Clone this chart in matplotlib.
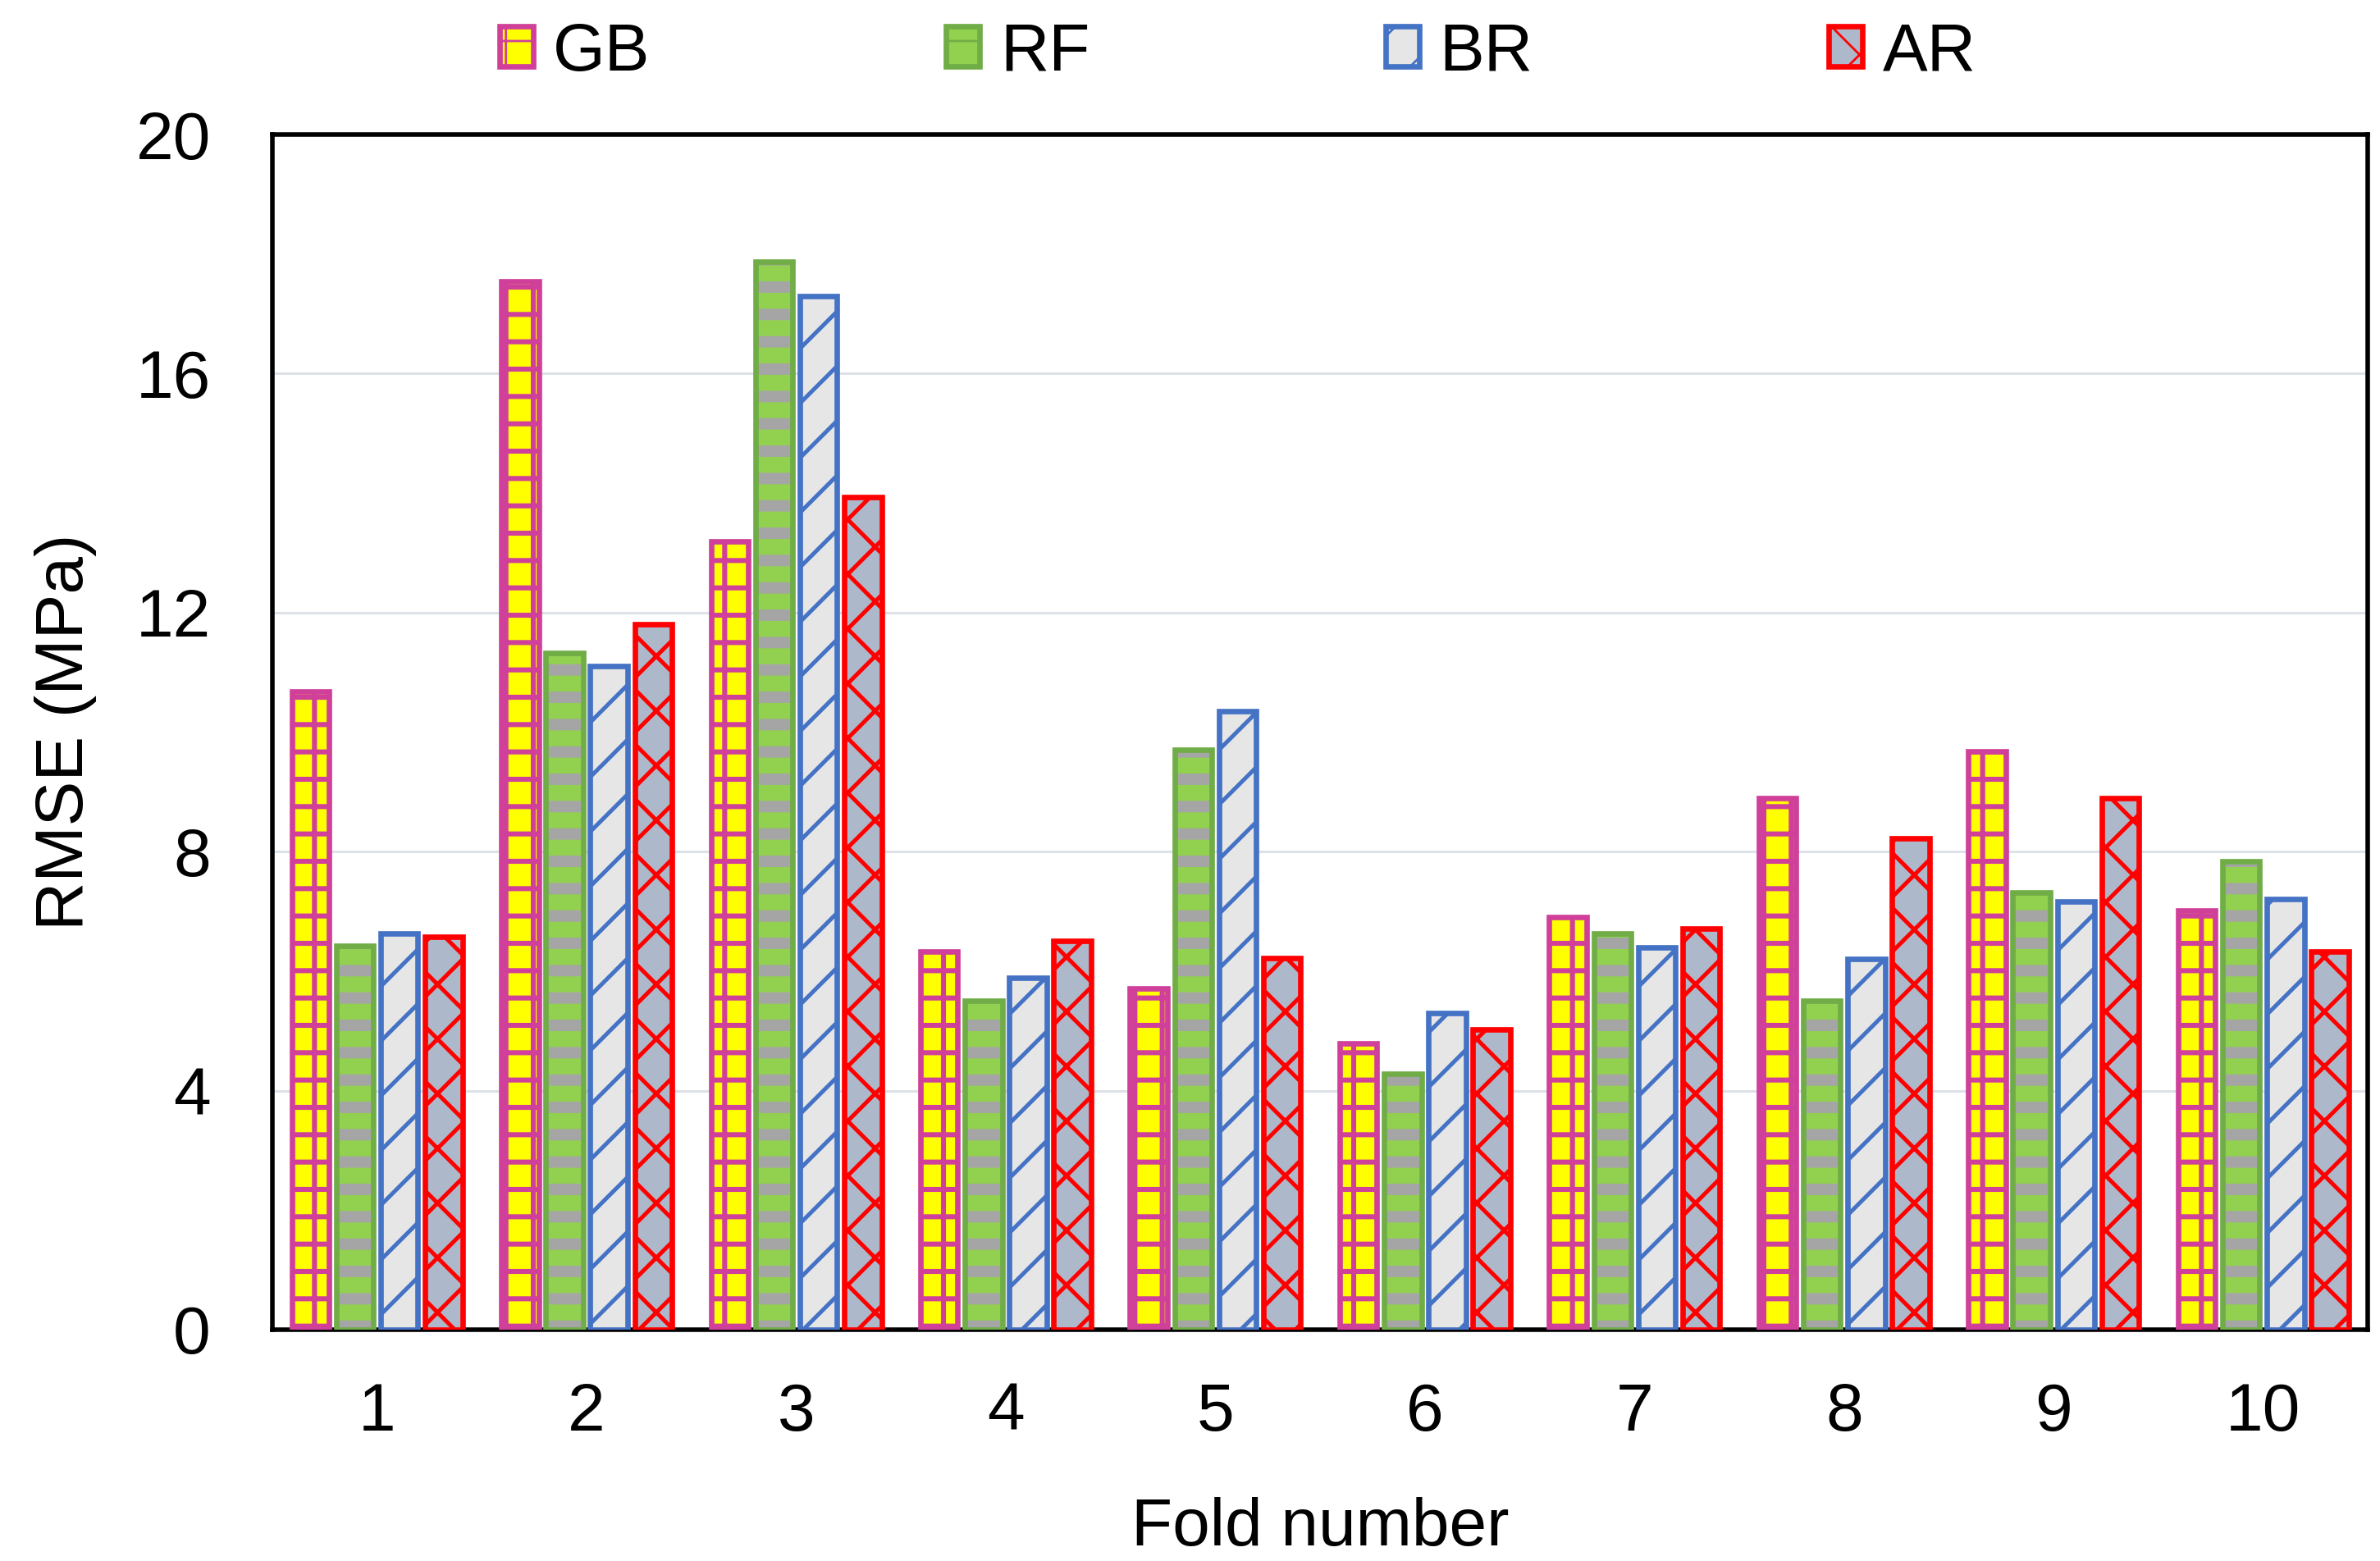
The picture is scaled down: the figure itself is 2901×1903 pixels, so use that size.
import matplotlib
matplotlib.use("Agg")
import matplotlib.pyplot as plt
from matplotlib.patches import Patch
import numpy as np

folds = ["1", "2", "3", "4", "5", "6", "7", "8", "9", "10"]
series_names = ["GB", "RF", "BR", "AR"]
gb = [10.68, 17.54, 13.19, 6.33, 5.71, 4.79, 6.91, 8.89, 9.68, 7.02]
rf = [6.43, 11.32, 17.87, 5.51, 9.71, 4.28, 6.63, 5.51, 7.32, 7.84]
br = [6.63, 11.11, 17.29, 5.89, 10.35, 5.30, 6.40, 6.20, 7.17, 7.20]
ar = [6.58, 11.80, 13.93, 6.50, 6.22, 5.02, 6.71, 8.22, 8.89, 6.33]
yticks = [0, 4, 8, 12, 16, 20]

plt.rcParams['font.family'] = ['Liberation Sans', 'DejaVu Sans']

styles = [
    dict(face="#FFFF00", hatchc="#D0409A", edge="#D0409A", hatch="+", hlw=2.2),
    dict(face="#92D050", hatchc="#A5A5A5", edge="#70AD47", hatch="-", hlw=5.0),
    dict(face="#E7E6E6", hatchc="#4472C4", edge="#4472C4", hatch="/", hlw=1.8),
    dict(face="#ADB9CA", hatchc="#FF0000", edge="#FF0000", hatch="x", hlw=1.8),
]

FS = 29.5
fig = plt.figure(figsize=(14.505, 9.515), dpi=200)
ax = fig.add_axes([0.1144, 0.1482, 0.995 - 0.1144, 0.9138 - 0.1482])

x = np.arange(len(folds))
slot = 0.212
bw = 0.178
data = [gb, rf, br, ar]
handles = []
for i, (vals, st) in enumerate(zip(data, styles)):
    pos = x + (i - 1.5) * slot
    with plt.rc_context({'hatch.linewidth': st["hlw"]}):
        ax.bar(pos, vals, width=bw, color=st["face"], edgecolor=st["hatchc"],
               hatch=st["hatch"], linewidth=0, zorder=3)
        ax.bar(pos, vals, width=bw, color="none", edgecolor=st["edge"],
               linewidth=2.4, zorder=4)
        handles.append(Patch(facecolor=st["face"], edgecolor=st["edge"],
                             hatch=st["hatch"], linewidth=2.4))

ax.set_xlim(-0.5, 9.5)
ax.set_ylim(0, 20)
ax.set_yticks(yticks)
ax.set_xticks(x)
ax.set_xticklabels(folds)
ax.tick_params(axis='both', length=0, labelsize=FS)
ax.tick_params(axis='y', pad=27)
ax.tick_params(axis='x', pad=23)
ax.yaxis.grid(True, color="#DDE1E8", linewidth=1.1, zorder=0)
ax.set_axisbelow(True)
for s in ax.spines.values():
    s.set_linewidth(2.0)
    s.set_color("black")
ax.set_ylabel("RMSE (MPa)", fontsize=FS, labelpad=17)
ax.set_xlabel("Fold number", fontsize=FS, labelpad=23)

fig.legend(handles, series_names, loc="center", bbox_to_anchor=(0.52, 0.966),
           ncol=4, frameon=False, fontsize=FS, columnspacing=4.4,
           handlelength=0.5, handleheight=0.55, handletextpad=0.3)

fig.savefig("out.png", dpi=200)
